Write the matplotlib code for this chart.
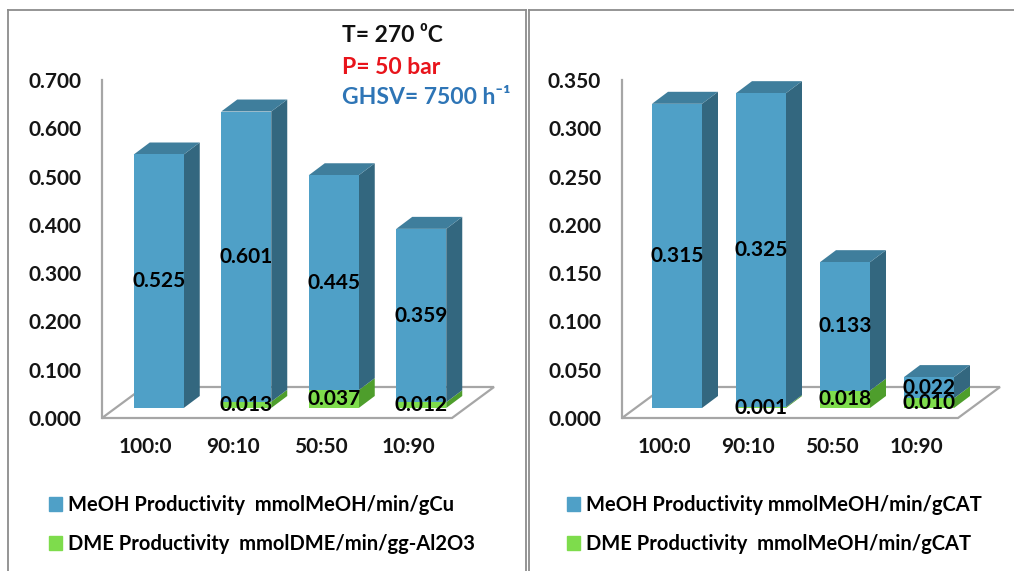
import numpy as np
import matplotlib.pyplot as plt
from matplotlib.patches import Polygon, Patch
from matplotlib.lines import Line2D

# ---- data ----
categories = ["100:0", "90:10", "50:50", "10:90"]

meoh_cu = [0.525, 0.601, 0.445, 0.359]
dme_cu = [0.0, 0.013, 0.037, 0.012]
yticks_cu = [0.0, 0.1, 0.2, 0.3, 0.4, 0.5, 0.6, 0.7]
legend_cu = ["MeOH Productivity  mmolMeOH/min/gCu",
             "DME Productivity  mmolDME/min/gg-Al2O3"]

meoh_cat = [0.315, 0.325, 0.133, 0.022]
dme_cat = [0.0, 0.001, 0.018, 0.010]
yticks_cat = [0.0, 0.05, 0.10, 0.15, 0.20, 0.25, 0.30, 0.35]
legend_cat = ["MeOH Productivity mmolMeOH/min/gCAT",
              "DME Productivity  mmolMeOH/min/gCAT"]

conditions = ["T= 270 \u2070C", "P= 50 bar", "GHSV= 7500 h\u207b\u00b9"]
condition_colors = ["#111111", "#E8141B", "#2E75B6"]

# ---- style ----
W, H = 1014, 571
FONT = ["Lato", "DejaVu Sans"]
plt.rcParams["font.family"] = FONT
plt.rcParams["font.weight"] = "bold"

blue = dict(front="#4FA0C7", side="#33677F", top="#3F7E9C")
green = dict(front="#7EDC4C", side="#4E9E2C", top="#62B83A")
grid_gray = "#A6A6A6"
txt = "#151515"


def box(x0, y0, x1, y1):
    # pixel box (top-left origin) -> figure fraction rect
    return [x0 / W, 1 - y1 / H, (x1 - x0) / W, (y1 - y0) / H]


def draw_panel(ax, meoh, dme, yticks, ymax, ax_px, legend_labels, legend_xy):
    x0, y0, x1, y1 = ax_px
    ax.set_xlim(-0.5, 3.5)
    ax.set_ylim(0, ymax)
    kx = (x1 - x0) / 4.0
    ky = (y1 - y0) / ymax

    def px(dx, dy):
        return dx / kx, dy / ky

    fdx, fdy = px(42, 31)
    ox, oy = px(13, 10)
    bdx, bdy = px(16, 12)
    w = 50 / kx

    floor = Polygon([(-0.5, 0), (3.5, 0), (3.5 + fdx, fdy), (-0.5 + fdx, fdy)],
                    closed=True, facecolor="white", edgecolor=grid_gray,
                    lw=1.6, clip_on=False, zorder=1)
    ax.add_patch(floor)

    x = np.arange(len(categories))
    bot = np.array(dme)
    ax.bar(x + ox, dme, width=w, bottom=oy, color=green["front"], lw=0, zorder=3)
    ax.bar(x + ox, meoh, width=w, bottom=oy + bot, color=blue["front"], lw=0, zorder=3)

    for i in range(len(categories)):
        xl = x[i] + ox - w / 2
        xr = xl + w
        segs = [(dme[i], oy, green), (meoh[i], oy + dme[i], blue)]
        for h, yb, c in segs:
            if h <= 0:
                continue
            yt = yb + h
            ax.add_patch(Polygon([(xr, yb), (xr + bdx, yb + bdy), (xr + bdx, yt + bdy), (xr, yt)],
                                 facecolor=c["side"], lw=0, clip_on=False, zorder=2.5))
        yt = oy + dme[i] + meoh[i]
        ax.add_patch(Polygon([(xl, yt), (xr, yt), (xr + bdx, yt + bdy), (xl + bdx, yt + bdy)],
                             facecolor=blue["top"], lw=0, clip_on=False, zorder=2.5))
        for h, yb, c in segs:
            if h > 0:
                ax.text(x[i] + ox, yb + h / 2, f"{h:.3f}", ha="center", va="center",
                        fontsize=15, fontweight="bold", color="black", zorder=5,
                        clip_on=False)

    for s in ["top", "right", "bottom"]:
        ax.spines[s].set_visible(False)
    ax.spines["left"].set_color(grid_gray)
    ax.spines["left"].set_linewidth(1.6)
    ax.spines["left"].set_zorder(1)

    ax.set_yticks(yticks, [f"{v:.3f}" for v in yticks])
    ax.set_xticks(x, categories)
    ax.tick_params(axis="y", length=0, pad=15, labelsize=15, labelcolor=txt)
    ax.tick_params(axis="x", length=0, pad=14, labelsize=15, labelcolor=txt)
    for lab in ax.get_xticklabels() + ax.get_yticklabels():
        lab.set_fontweight("bold")
    ax.patch.set_visible(False)

    handles = [Patch(color=blue["front"]), Patch(color=green["front"])]
    ax.legend(handles, legend_labels, loc="upper left",
              bbox_to_anchor=(legend_xy[0] / W, 1 - legend_xy[1] / H),
              bbox_transform=ax.figure.transFigure, frameon=False,
              handlelength=0.65, handleheight=0.65, handletextpad=0.3,
              labelspacing=0.95, borderpad=0, borderaxespad=0,
              prop=dict(family=FONT, weight="bold", size=14.5))


fig = plt.figure(figsize=(W / 100, H / 100), dpi=100)

ax1 = fig.add_axes(box(102, 80, 452, 418))
draw_panel(ax1, meoh_cu, dme_cu, yticks_cu, 0.7, (102, 80, 452, 418),
           legend_cu, (49, 495))

ax2 = fig.add_axes(box(622, 80, 958, 418))
draw_panel(ax2, meoh_cat, dme_cat, yticks_cat, 0.35, (622, 80, 958, 418),
           legend_cat, (567, 495))

# condition annotations
for k, (t, c) in enumerate(zip(conditions, condition_colors)):
    fig.text(342 / W, 1 - (36 + 31 * k) / H, t, color=c, fontsize=16.5,
             fontweight="bold", family=FONT, ha="left", va="center")

# panel borders
border = "#8C8C8C"
def fline(xs, ys):
    fig.add_artist(Line2D([v / W for v in xs], [1 - v / H for v in ys],
                          color=border, lw=1.3))

fline([8, 8], [10, H])
fline([8, 526], [10, 10])
fline([526, 526], [10, H])
fline([529, 529], [10, H])
fline([529, W], [10, 10])

fig.savefig("out.png", dpi=100)
